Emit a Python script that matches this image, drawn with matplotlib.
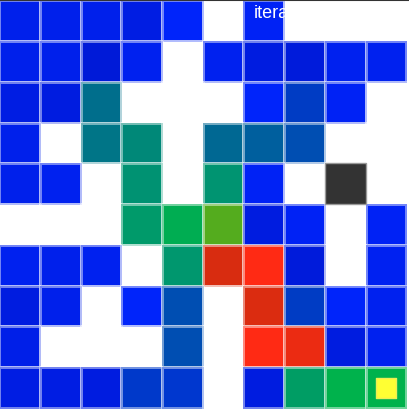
import numpy as np
import matplotlib
matplotlib.use("Agg")
import matplotlib.pyplot as plt
from matplotlib.colors import LinearSegmentedColormap
from matplotlib.patches import Rectangle
from matplotlib.lines import Line2D

nan = np.nan
# value of each maze cell (nan = wall / not visited)
values = np.array([
    [0.05, 0.05, 0.05, 0.03, 0.10, nan,  0.08, nan,  nan,  nan],
    [0.05, 0.05, 0.00, 0.06, nan,  0.06, 0.02, 0.01, 0.06, 0.06],
    [0.03, 0.02, 0.33, nan,  nan,  nan,  0.10, 0.20, 0.08, nan],
    [0.05, nan,  0.35, 0.40, nan,  0.32, 0.30, 0.26, nan,  nan],
    [0.05, 0.06, nan,  0.45, nan,  0.46, 0.08, nan,  nan,  nan],
    [nan,  nan,  nan,  0.50, 0.60, 0.70, 0.02, 0.08, nan,  0.08],
    [0.06, 0.05, 0.06, nan,  0.48, 0.85, 1.00, 0.01, nan,  0.07],
    [0.02, 0.05, nan,  0.10, 0.26, nan,  0.86, 0.20, 0.10, 0.06],
    [0.04, nan,  nan,  nan,  0.26, nan,  1.00, 0.92, 0.02, 0.06],
    [0.03, 0.03, 0.02, 0.19, 0.18, nan,  0.02, 0.53, 0.62, 0.62],
])
agent = (8, 4)   # (col, row)
goal = (9, 9)
title = "iteration"

cmap = LinearSegmentedColormap.from_list("maze", [
    (0.00, "#001ad8"), (0.05, "#0020ec"), (0.10, "#0024fb"),
    (0.20, "#003cc4"), (0.27, "#0052ae"), (0.33, "#006e8c"),
    (0.40, "#008878"), (0.47, "#009670"), (0.55, "#00a060"),
    (0.62, "#00b24c"), (0.70, "#52ae1e"), (0.85, "#d82c10"),
    (1.00, "#ff2a14"),
])

fig = plt.figure(figsize=(4.10, 4.12), dpi=100)
ax = fig.add_axes([0, 0, 1, 1])
x = np.arange(11) - 0.5
ax.pcolormesh(x, x, np.ma.masked_invalid(values), cmap=cmap, vmin=0, vmax=1,
              edgecolors=(1, 1, 1, 0.45), linewidth=0.8)
ax.add_patch(Rectangle((agent[0] - 0.5, agent[1] - 0.5), 1, 1,
                       facecolor="#333333", edgecolor="#999999", lw=1.0))
ax.scatter([goal[0]], [goal[1]], marker="s", s=220, color="#ffff33",
           edgecolors="#eeee55", linewidths=1)
ax.set_xlim(-0.48, 9.59)
ax.set_ylim(9.6, -0.51)
ax.axis("off")

fig.text(254 / 410, 1 - 13 / 412, title, color="white", fontsize=13,
         family="Liberation Sans", va="center", ha="left")
fig.add_artist(Line2D([0, 1], [0.999, 0.999], color="#333333", lw=1.5,
                      transform=fig.transFigure))
fig.savefig("out.png", dpi=100)
